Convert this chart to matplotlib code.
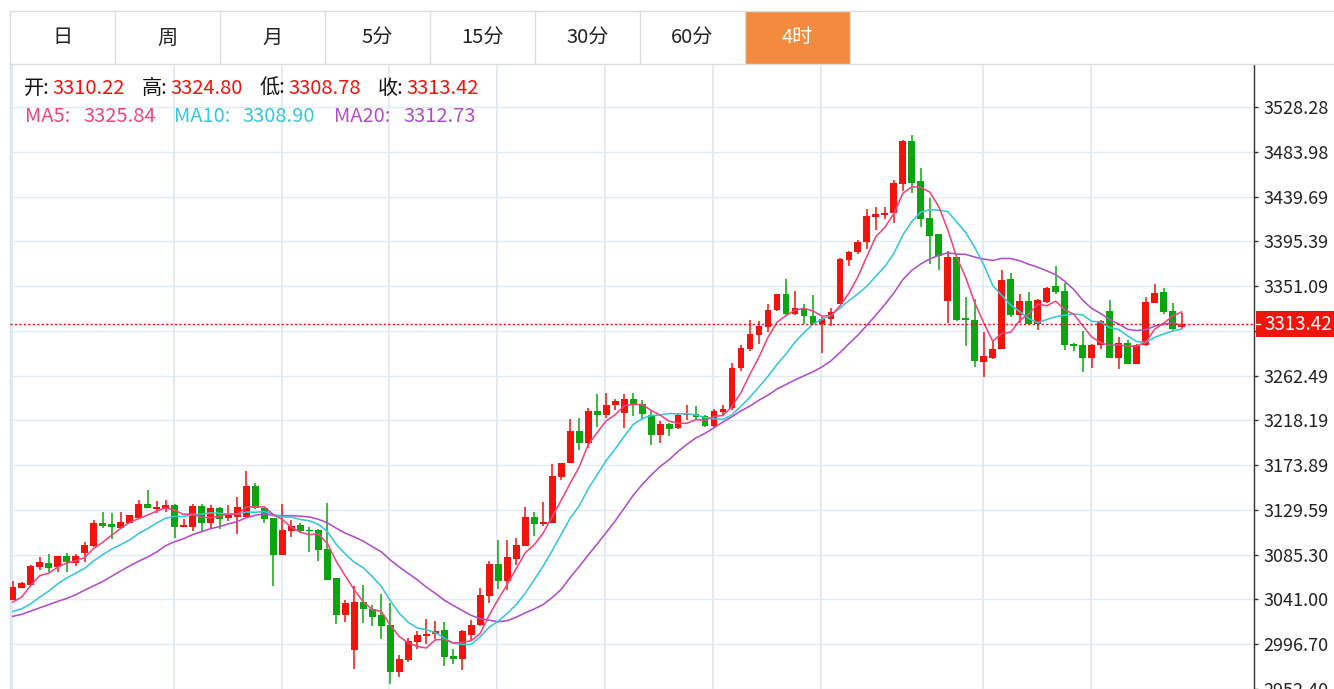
import numpy as np
import pandas as pd
import matplotlib
matplotlib.use('Agg')
import matplotlib.pyplot as plt
from matplotlib.patches import Rectangle
from matplotlib.transforms import blended_transform_factory

plt.rcParams['font.family'] = ['Noto Sans CJK SC', 'DejaVu Sans']

# ---------------- data ----------------
opens = [3040.7, 3052.2, 3055.5, 3072.8, 3077.4, 3072.8, 3083.7, 3076.8, 3086.6, 3094.2,
         3116.5, 3115.2, 3112.2, 3117.1, 3122.0, 3135.8, 3130.3, 3130.3, 3134.2, 3112.9,
         3113.2, 3133.2, 3117.1, 3131.2, 3121.4, 3122.7, 3122.7, 3153.6, 3131.9, 3122.0,
         3085.0, 3108.9, 3114.8, 3110.2, 3109.3, 3090.9, 3062.0, 3025.3, 2990.8, 3038.4,
         3031.2, 3025.3, 3015.4, 2969.5, 2981.0, 2999.0, 3004.9, 3006.6, 3010.5, 2984.9,
         2981.9, 3006.0, 3015.8, 3044.6, 3075.8, 3059.4, 3081.4, 3093.5, 3123.0, 3115.8,
         3116.5, 3162.4, 3175.9, 3207.7, 3195.6, 3228.0, 3223.4, 3233.9, 3225.1, 3239.8,
         3234.6, 3223.8, 3204.1, 3214.6, 3210.7, 3223.1, 3224.8, 3222.1, 3212.3, 3226.4,
         3230.3, 3269.7, 3288.4, 3303.2, 3310.7, 3327.1, 3343.5, 3323.9, 3328.8, 3321.6,
         3314.0, 3318.3, 3333.7, 3377.4, 3385.2, 3394.4, 3420.0, 3421.6, 3423.9, 3451.8,
         3494.5, 3455.1, 3419.0, 3402.6, 3336.0, 3379.6, 3319.6, 3317.9, 3276.3, 3280.2,
         3288.8, 3357.7, 3322.9, 3336.0, 3314.0, 3335.3, 3351.1, 3345.8, 3294.3, 3292.7,
         3280.2, 3293.3, 3326.1, 3280.2, 3295.3, 3273.7, 3292.7, 3334.7, 3345.2, 3326.5,
         3310.22]
highs = [3059.7, 3058.0, 3074.8, 3082.7, 3085.9, 3084.3, 3086.9, 3085.9, 3098.1, 3120.1,
         3127.9, 3127.0, 3127.6, 3124.6, 3139.1, 3149.3, 3138.5, 3139.1, 3135.2, 3121.1,
         3135.8, 3135.8, 3134.2, 3132.6, 3134.2, 3142.4, 3168.0, 3155.8, 3131.9, 3122.0,
         3135.8, 3119.8, 3116.5, 3112.9, 3110.6, 3136.8, 3062.0, 3040.7, 3054.8, 3055.4,
         3035.1, 3046.6, 3037.7, 2985.9, 3003.3, 3009.5, 3022.0, 3019.4, 3018.7, 2991.8,
         3010.5, 3020.3, 3052.8, 3079.1, 3099.4, 3100.1, 3101.7, 3132.9, 3127.3, 3137.2,
         3175.5, 3176.5, 3219.8, 3220.2, 3230.7, 3244.4, 3245.4, 3238.9, 3244.4, 3245.7,
         3238.2, 3227.1, 3217.2, 3215.6, 3225.4, 3233.6, 3232.6, 3223.8, 3229.7, 3233.6,
         3274.6, 3292.7, 3317.9, 3316.6, 3333.7, 3343.5, 3358.3, 3345.8, 3333.7, 3342.6,
         3320.6, 3329.4, 3378.7, 3386.2, 3397.0, 3427.2, 3429.8, 3429.8, 3455.8, 3496.1,
         3501.0, 3468.2, 3438.7, 3402.6, 3386.2, 3379.6, 3340.3, 3338.6, 3305.8, 3297.8,
         3367.5, 3364.2, 3343.5, 3345.2, 3338.6, 3350.1, 3371.4, 3354.4, 3295.0, 3306.5,
         3294.3, 3317.9, 3337.0, 3300.9, 3297.6, 3294.3, 3340.3, 3353.4, 3349.1, 3334.4,
         3324.80]
lows = [3040.0, 3052.0, 3055.2, 3070.2, 3067.9, 3067.9, 3067.9, 3074.5, 3077.8, 3093.2,
        3112.2, 3100.7, 3111.6, 3116.5, 3121.4, 3131.2, 3127.0, 3128.0, 3101.4, 3112.9,
        3108.3, 3108.9, 3112.2, 3110.6, 3118.8, 3105.6, 3122.7, 3130.5, 3117.1, 3054.8,
        3085.0, 3102.4, 3106.6, 3087.6, 3079.4, 3060.7, 3016.4, 3018.7, 2972.1, 3018.0,
        3014.4, 3002.3, 2957.4, 2964.6, 2979.3, 2991.8, 2997.4, 3002.3, 2975.1, 2977.0,
        2971.1, 3001.0, 3014.8, 3037.1, 3051.8, 3050.2, 3074.8, 3093.5, 3104.3, 3114.2,
        3116.5, 3159.1, 3175.9, 3188.7, 3191.3, 3211.6, 3220.8, 3229.0, 3211.0, 3222.5,
        3218.2, 3194.3, 3195.9, 3202.5, 3210.0, 3218.9, 3218.9, 3211.3, 3211.3, 3223.8,
        3228.7, 3267.1, 3286.8, 3294.3, 3305.8, 3326.5, 3322.2, 3322.2, 3314.0, 3312.4,
        3284.5, 3311.7, 3333.7, 3370.8, 3382.9, 3387.8, 3406.9, 3417.4, 3413.4, 3445.3,
        3443.6, 3409.2, 3373.1, 3367.5, 3315.0, 3316.3, 3292.0, 3271.4, 3261.5, 3278.9,
        3288.8, 3320.6, 3315.0, 3313.0, 3307.5, 3334.7, 3343.5, 3287.8, 3286.8, 3265.8,
        3270.4, 3288.8, 3280.2, 3269.1, 3273.7, 3273.7, 3292.0, 3334.7, 3323.9, 3307.5,
        3308.78]
closes = [3053.2, 3057.4, 3074.1, 3078.1, 3071.8, 3083.7, 3077.8, 3084.3, 3094.8, 3116.8,
          3113.9, 3112.9, 3118.1, 3124.3, 3135.8, 3131.2, 3132.6, 3134.2, 3112.9, 3114.9,
          3133.2, 3117.1, 3131.2, 3121.1, 3124.7, 3132.6, 3153.6, 3131.2, 3121.1, 3085.0,
          3109.9, 3113.9, 3108.3, 3108.3, 3089.9, 3060.7, 3025.3, 3037.1, 3038.4, 3031.2,
          3023.6, 3014.8, 2969.5, 2981.9, 3000.0, 3006.2, 3007.2, 3009.8, 2984.3, 2981.6,
          3009.5, 3016.1, 3045.3, 3075.8, 3059.4, 3083.0, 3094.5, 3123.0, 3115.8, 3117.5,
          3163.4, 3175.9, 3207.7, 3195.6, 3228.0, 3223.4, 3233.9, 3237.9, 3239.8, 3234.6,
          3224.1, 3204.1, 3214.6, 3210.0, 3223.8, 3224.8, 3221.5, 3212.3, 3227.7, 3229.4,
          3269.7, 3290.1, 3303.5, 3311.4, 3327.8, 3343.5, 3323.9, 3329.4, 3321.6, 3314.0,
          3318.9, 3325.0, 3378.0, 3385.2, 3394.4, 3420.7, 3422.3, 3423.9, 3453.5, 3494.5,
          3453.5, 3418.0, 3401.0, 3381.3, 3379.6, 3317.3, 3317.3, 3276.9, 3281.9, 3288.4,
          3357.5, 3322.2, 3336.0, 3314.0, 3337.0, 3349.1, 3345.2, 3293.3, 3292.0, 3280.2,
          3293.3, 3316.3, 3280.2, 3295.0, 3273.7, 3293.3, 3335.3, 3344.5, 3325.5, 3309.1,
          3313.42]

# moving-average values at the left edge (their earlier bars are outside the window)
ma5_head = [3038.4, 3043.3, 3054.8, 3064.6]
ma10_head = [3029.2, 3031.8, 3036.7, 3043.3, 3049.2, 3056.4, 3062.3, 3066.9, 3071.8]
ma20_head = [3024.3, 3026.3, 3029.5, 3032.8, 3035.8, 3039.1, 3042.0, 3045.6, 3050.2, 3054.5,
             3058.7, 3064.0, 3069.2, 3074.2, 3078.8, 3083.0, 3087.9, 3094.2, 3098.1]

grid_idx = [0, 18, 30, 42, 54, 66, 78, 90, 108, 120]
tick_values = [2952.40, 2996.70, 3041.00, 3085.30, 3129.59, 3173.89, 3218.19, 3262.49,
               3306.79, 3351.09, 3395.39, 3439.69, 3483.98, 3528.28]
tabs = ['日', '周', '月', '5分', '15分', '30分', '60分', '4时']
active_tab = '4时'
legend_ma = [('MA5', 3325.84), ('MA10', 3308.90), ('MA20', 3312.73)]

# ---------------- style ----------------
RED = '#F2140C'
GREEN = '#0BA50F'
C_MA5 = '#EE4680'
C_MA10 = '#36C7DC'
C_MA20 = '#B24ECA'
GRID = '#E3EBF2'

W, H = 1334, 689
fig = plt.figure(figsize=(W / 100, H / 100), dpi=100)
fig.patch.set_facecolor('white')

def fx(x):
    return x / W

def fy(y):
    return 1 - y / H

ax = fig.add_axes([fx(10), 0, fx(1254) - fx(10), fy(65)])
ax.set_xlim(-0.30, 138.05)
ax.set_ylim(2955.64, 3569.93)

o = np.array(opens); h = np.array(highs); l = np.array(lows); c = np.array(closes)
x = np.arange(len(c))
up = c >= o
colors = np.where(up, RED, GREEN)

# grid
for v in tick_values:
    ax.axhline(v, color=GRID, lw=1.0, zorder=0)
for g in grid_idx:
    ax.axvline(g - 0.1, color=GRID, lw=1.4, zorder=0)

# candles
ax.vlines(x, l, h, colors=colors, lw=1.1, zorder=2)
body_bot = np.minimum(o, c)
body_h = np.maximum(np.abs(c - o), 1.0)
ax.bar(x, body_h, bottom=body_bot, width=0.76, color=colors, edgecolor=colors,
       linewidth=0, zorder=3)

# moving averages
cs = pd.Series(c)
ma5 = cs.rolling(5).mean().to_numpy()
ma10 = cs.rolling(10).mean().to_numpy()
ma20 = cs.rolling(20).mean().to_numpy()
ma5[:len(ma5_head)] = ma5_head
ma10[:len(ma10_head)] = ma10_head
ma20[:len(ma20_head)] = ma20_head
ax.plot(x, ma20, color=C_MA20, lw=1.15, zorder=4)
ax.plot(x, ma10, color=C_MA10, lw=1.15, zorder=4)
ax.plot(x, ma5, color=C_MA5, lw=1.15, zorder=4)

# current price line
last_close = closes[-1]
ax.axhline(last_close, color=RED, lw=1.0, dashes=(1.6, 1.6), zorder=5)

# axes styling
for s in ['top', 'bottom']:
    ax.spines[s].set_visible(False)
ax.spines['left'].set_color('#DCE3EA')
ax.spines['left'].set_linewidth(1.0)
ax.spines['right'].set_color('#333333')
ax.spines['right'].set_linewidth(1.0)
ax.set_xticks([])
ax.yaxis.tick_right()
ax.set_yticks(tick_values)
ax.set_yticklabels(['' if abs(v - 3306.79) < 0.01 else f'{v:.2f}' for v in tick_values])
ax.tick_params(axis='y', direction='out', length=3, width=1, color='#333333',
               pad=3.5, labelsize=13, labelcolor='#222222')

# current price label box
bt = blended_transform_factory(ax.transAxes, ax.transData)
ax.add_patch(Rectangle((1.0016, last_close - 12.8), 0.07, 25.6, transform=bt,
                       facecolor=RED, edgecolor='none', clip_on=False, zorder=10))
ax.plot([1.0016, 1.0050], [last_close, last_close], transform=bt, color='white',
        lw=1.0, clip_on=False, zorder=11)
ax.text(1.0086, last_close, f'{last_close:.2f}', transform=bt, ha='left', va='center',
        fontsize=13.5, color='white', clip_on=False, zorder=12)

# ---------------- overlay: tabs and legend ----------------
ov = fig.add_axes([0, 0, 1, 1], zorder=20)
ov.set_xlim(0, W)
ov.set_ylim(H, 0)
ov.axis('off')
ov.patch.set_alpha(0)

tab_w = 105
tab_x0 = 10
ov.plot([tab_x0, W], [10.5, 10.5], color='#DDDDDD', lw=1)
ov.plot([tab_x0, W], [63.5, 63.5], color='#DDDDDD', lw=1)
ov.plot([tab_x0, tab_x0], [10.5, 63.5], color='#DDDDDD', lw=1)
for i, t in enumerate(tabs):
    x0 = tab_x0 + i * tab_w
    if t == active_tab:
        ov.add_patch(Rectangle((x0, 11), tab_w, 52.5, facecolor='#F28B3E', edgecolor='none'))
        tc = 'white'
    else:
        tc = '#222222'
    ov.plot([x0 + tab_w, x0 + tab_w], [10.5, 63.5], color='#DDDDDD', lw=1)
    ov.text(x0 + tab_w / 2, 38, t, ha='center', va='center', fontsize=14.5, color=tc)

# OHLC legend
labels = [('开:', opens[-1], 24), ('高:', highs[-1], 142), ('低:', lows[-1], 260),
          ('收:', closes[-1], 378)]
for lab, val, xx in labels:
    ov.text(xx, 88, lab, ha='left', va='center', fontsize=14.5, color='#111111')
    ov.text(xx + 28, 88, f'{val:.2f}', ha='left', va='center', fontsize=14.5, color=RED)

ma_x = [(25, 83), (174, 242), (334, 403)]
for (name, val), col, (xn, xv) in zip(legend_ma, [C_MA5, C_MA10, C_MA20], ma_x):
    ov.text(xn, 116, f'{name}:', ha='left', va='center', fontsize=14.5, color=col)
    ov.text(xv, 116, f'{val:.2f}', ha='left', va='center', fontsize=14.5, color=col)

fig.savefig('out.png', dpi=100)
